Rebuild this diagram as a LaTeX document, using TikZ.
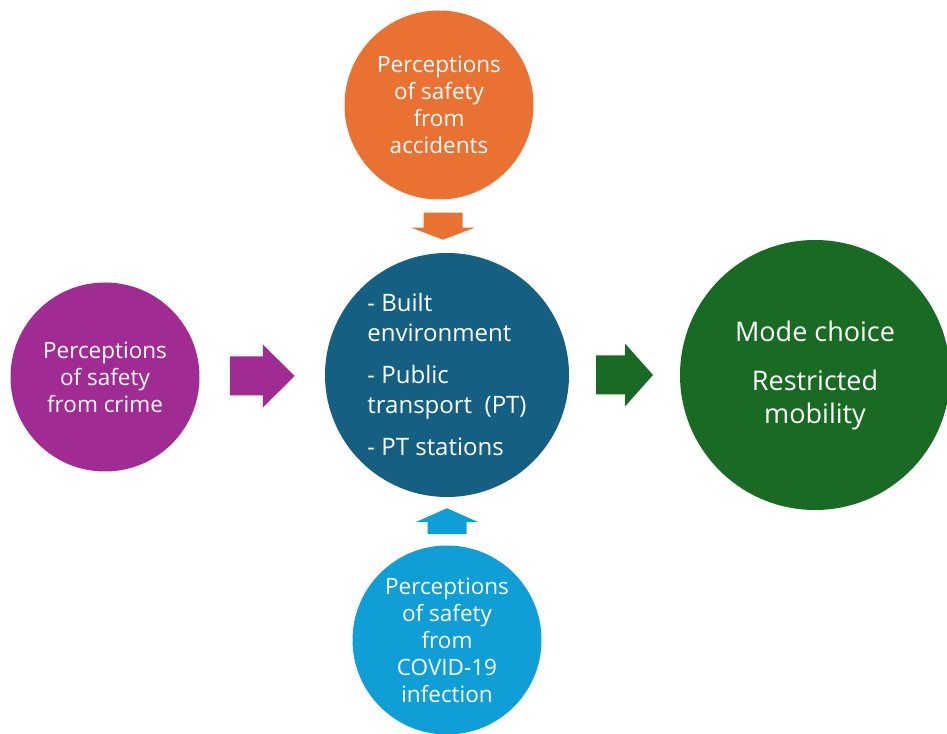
\documentclass[tikz,border=0pt]{standalone}
\usepackage{fontspec}
\setmainfont{Open Sans}
\usepackage{tikz}
\usetikzlibrary{positioning, calc}
\definecolor{accidentorange}{HTML}{E97132}
\definecolor{crimepurple}{HTML}{A02B93}
\definecolor{coreblue}{HTML}{156082}
\definecolor{outcomegreen}{HTML}{196B24}
\definecolor{covidblue}{HTML}{0F9ED5}

% block arrow: total length / shaft length, pointing along +x
\tikzset{
    pics/fatarrow/.style args={#1/#2}{code={
        \fill[pic actions] (-#1/2,-19.5) -- (-#1/2+#2,-19.5) -- (-#1/2+#2,-31.5)
            -- (#1/2,0) -- (-#1/2+#2,31.5) -- (-#1/2+#2,19.5) -- (-#1/2,19.5) -- cycle;
    }}
}

\begin{document}
\begin{tikzpicture}[
    x=1pt, y=1pt,
    bubble/.style={
        circle, inner sep=0pt, text=white, align=center
    },
    cause/.style={
        bubble, minimum size=189pt,
        font=\fontsize{22.5}{27}\selectfont
    }
]
\useasboundingbox (0,0) rectangle (947,733);

% influencing perceptions
\node[cause, fill=accidentorange] (accidents) at (439,628) {Perceptions\\ of safety\\ from\\ accidents};
\node[cause, fill=crimepurple] (crime) at (105,356) {Perceptions\\ of safety\\ from crime};
\node[cause, fill=covidblue] (covid) at (447,93) {Perceptions\\ of safety\\ from\\ COVID-19\\ infection};

% setting
\node[bubble, fill=coreblue, minimum size=244pt, align=left,
      font=\fontsize{24}{30}\selectfont] (core) at (447,358) {
    - Built\\
    environment\\[12pt]
    - Public\\
    transport\ \ (PT)\\[12pt]
    - PT stations
};

% outcome
\node[bubble, fill=outcomegreen, minimum size=270pt,
      font=\fontsize{27}{33}\selectfont] (outcome) at (815,358) {
    Mode choice\\[16pt]
    Restricted\\
    mobility
};

% arrows
\pic[fill=crimepurple] at ($(crime.east)!0.5!(core.west)$) {fatarrow=65/33};
\pic[fill=outcomegreen] at ($(core.east)!0.5!(outcome.west)$) {fatarrow=57/29};
\pic[fill=accidentorange, rotate=-90] at ($(accidents.south)!0.5!(core.north)$) {fatarrow=27/15};
\pic[fill=covidblue, rotate=90] at ($(covid.north)!0.5!(core.south)$) {fatarrow=26/12};

\end{tikzpicture}
\end{document}
